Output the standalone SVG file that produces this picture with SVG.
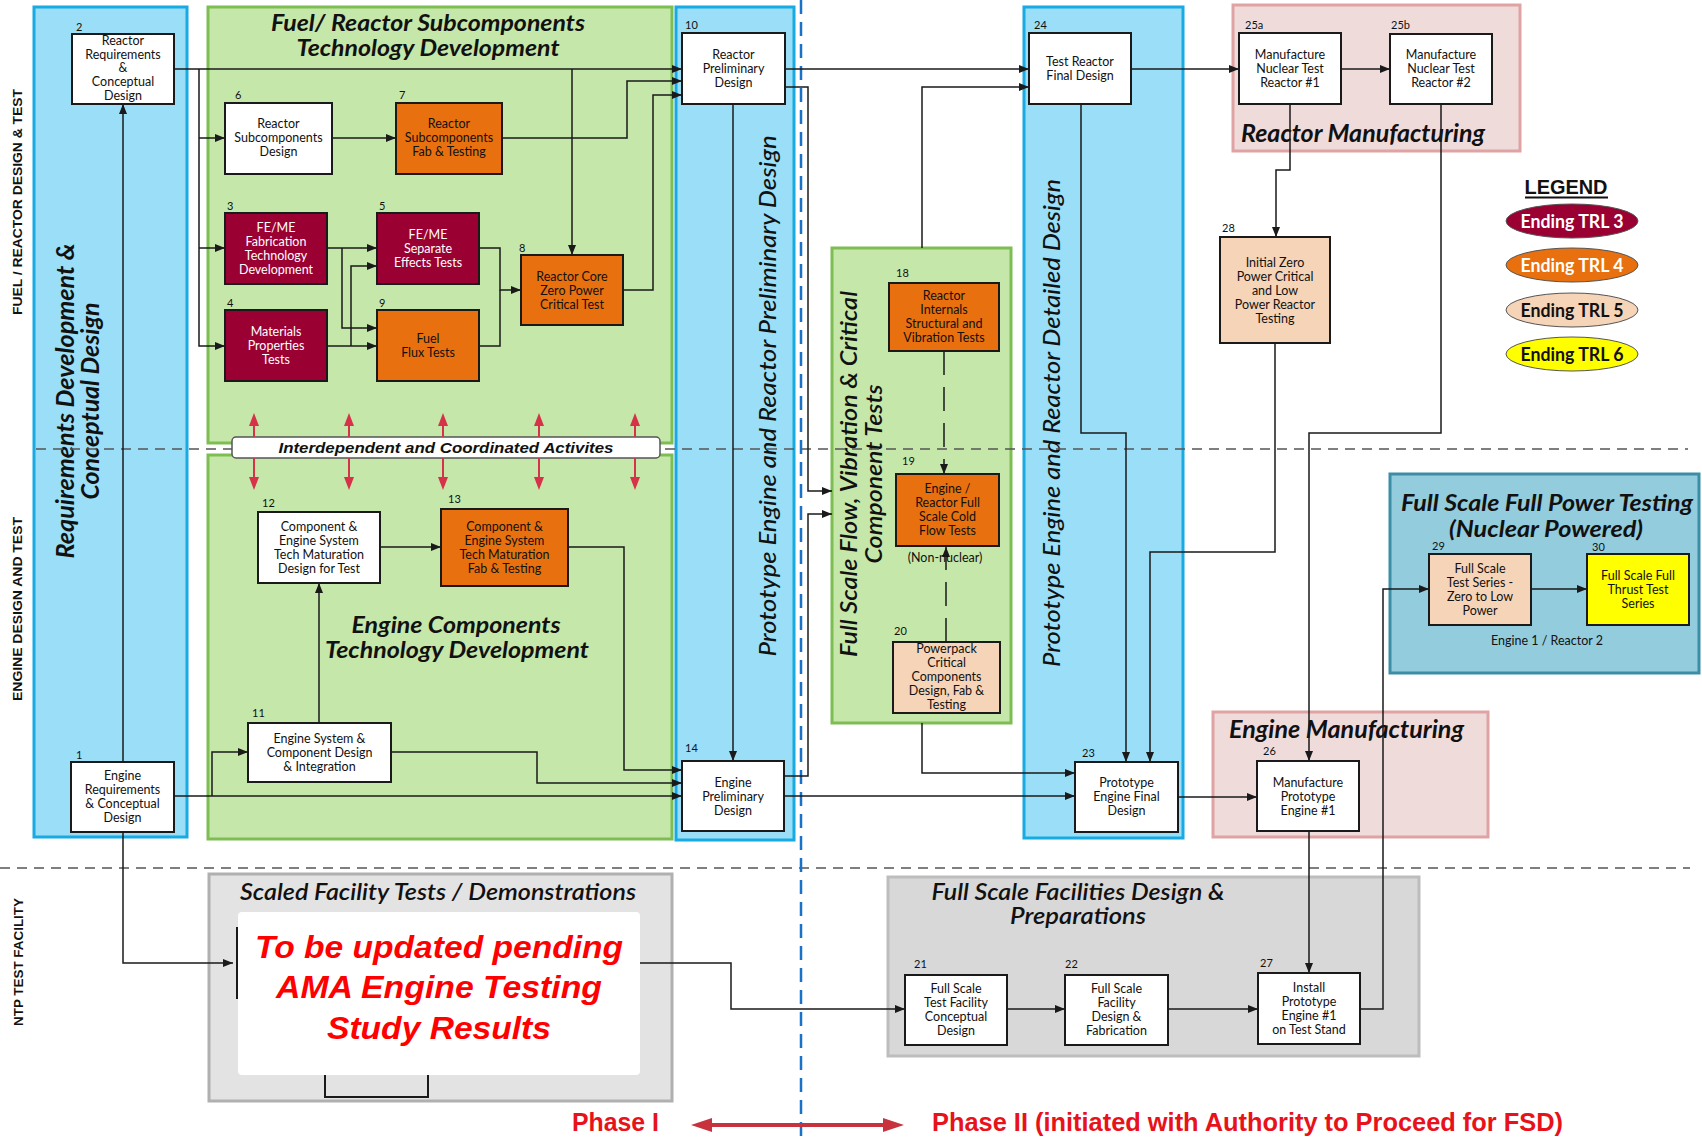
<svg xmlns="http://www.w3.org/2000/svg" width="1702" height="1143" viewBox="0 0 1702 1143">
<style>
.bg{fill:#ffffff}
.pb{fill:#9adff7;stroke:#17aae3;stroke-width:3}
.pg{fill:#c6e7aa;stroke:#7dbd52;stroke-width:3}
.pp{fill:#f0dbdb;stroke:#e0a3a3;stroke-width:3}
.pt{fill:#93ccdc;stroke:#3a8ea6;stroke-width:3}
.pgr{fill:#e3e3e3;stroke:#b0b0b0;stroke-width:3}
.pgr2{fill:#d8d8d8;stroke:#bdbdbd;stroke-width:3}
.n{stroke:#1a1a1a;stroke-width:2}
.w{fill:#ffffff}.m{fill:#9b0033}.o{fill:#e8700e}.p{fill:#f6d4b8}.y{fill:#ffff00}
.t{font-family:Lato,'Noto Sans',sans-serif;font-size:12.5px;text-anchor:middle;fill:#111}
.tw{fill:#ffffff}
.lb{font-family:Lato,'Noto Sans',sans-serif;font-size:11px;fill:#111}
.ti{font-family:Lato,'Noto Sans',sans-serif;font-weight:bold;font-style:italic;font-size:23px;fill:#111;text-anchor:middle}
.tv{font-family:Lato,'Noto Sans',sans-serif;font-weight:500;font-style:italic;font-size:23px;fill:#111;text-anchor:middle}
.side{font-family:'Liberation Sans',Arial,sans-serif;font-weight:bold;font-size:12px;fill:#111;text-anchor:middle}
.c{fill:none;stroke:#1a1a1a;stroke-width:1.5}
.cd{fill:none;stroke:#1a1a1a;stroke-width:1.5;stroke-dasharray:24,12}
.red{font-family:'Liberation Sans',Arial,sans-serif;font-weight:bold;font-style:italic;font-size:31px;fill:#ff0000;text-anchor:middle}
.ph{font-family:'Liberation Sans',Arial,sans-serif;font-weight:bold;font-size:25px;fill:#e8121b}
.lg{font-family:Lato,'Noto Sans',sans-serif;font-weight:bold;font-size:18px;text-anchor:middle}
.ia{stroke:#d6334a;stroke-width:2;fill:none}
.iah{fill:#d6334a}
</style>
<defs>
<marker id="ar" markerUnits="userSpaceOnUse" markerWidth="11" markerHeight="8" refX="10" refY="4" orient="auto">
<path d="M0,0 L10,4 L0,8 z" fill="#1a1a1a"/>
</marker>
</defs>
<rect class="bg" x="0" y="0" width="1702" height="1143"/>

<g id="panels">
<rect class="pb" x="34" y="7" width="153" height="830"/>
<rect class="pg" x="208" y="7" width="464" height="436"/>
<rect class="pg" x="208" y="455" width="464" height="384"/>
<rect class="pb" x="676" y="7" width="118" height="833"/>
<rect class="pg" x="832" y="248" width="179" height="475"/>
<rect class="pb" x="1024" y="7" width="159" height="831"/>
<rect class="pp" x="1233" y="5" width="287" height="146"/>
<rect class="pp" x="1213" y="712" width="275" height="125"/>
<rect class="pt" x="1390" y="474" width="309" height="199"/>
<rect class="pgr" x="209" y="874" width="463" height="227"/>
<rect class="pgr2" x="888" y="877" width="531" height="179"/>
<rect x="238" y="912" width="402" height="163" rx="4" fill="#ffffff"/>
</g>

<g id="panel-titles">
<text class="ti"><tspan x="428" y="31" textLength="314" lengthAdjust="spacingAndGlyphs">Fuel/ Reactor Subcomponents</tspan><tspan x="428" y="56" textLength="263" lengthAdjust="spacingAndGlyphs">Technology Development</tspan></text>
<text class="ti"><tspan x="456" y="633" textLength="209" lengthAdjust="spacingAndGlyphs">Engine Components</tspan><tspan x="457" y="658" textLength="264" lengthAdjust="spacingAndGlyphs">Technology Development</tspan></text>
<text class="ti" style="text-anchor:start;font-size:24px" x="1241" y="142" textLength="244" lengthAdjust="spacingAndGlyphs">Reactor Manufacturing</text>
<text class="ti" style="text-anchor:start;font-size:24px" x="1229" y="738" textLength="235" lengthAdjust="spacingAndGlyphs">Engine Manufacturing</text>
<text class="ti" style="font-size:22px"><tspan x="1547" y="511" textLength="292" lengthAdjust="spacingAndGlyphs">Full Scale Full Power Testing</tspan><tspan x="1546" y="537" textLength="194" lengthAdjust="spacingAndGlyphs">(Nuclear Powered)</tspan></text>
<text class="ti" style="font-size:22px;font-weight:600" x="438" y="900" textLength="396" lengthAdjust="spacingAndGlyphs">Scaled Facility Tests / Demonstrations</text>
<text class="ti" style="font-size:22px;font-weight:600"><tspan x="1078" y="900" textLength="293" lengthAdjust="spacingAndGlyphs">Full Scale Facilities Design &amp;</tspan><tspan x="1078" y="924" textLength="136" lengthAdjust="spacingAndGlyphs">Preparations</tspan></text>
<g transform="translate(0,401) rotate(-90)"><text class="ti" style="font-size:24px"><tspan x="0" y="74" textLength="315" lengthAdjust="spacingAndGlyphs">Requirements Development &amp;</tspan><tspan x="0" y="99" textLength="197" lengthAdjust="spacingAndGlyphs">Conceptual Design</tspan></text></g>
<g transform="translate(0,396) rotate(-90)"><text class="tv" x="0" y="776" textLength="521" lengthAdjust="spacingAndGlyphs">Prototype Engine and Reactor Preliminary Design</text></g>
<g transform="translate(0,423) rotate(-90)"><text class="tv" x="0" y="1060" textLength="488" lengthAdjust="spacingAndGlyphs">Prototype Engine and Reactor Detailed Design</text></g>
<g transform="translate(0,474) rotate(-90)"><text class="tv" style="font-weight:600"><tspan x="0" y="857" textLength="366" lengthAdjust="spacingAndGlyphs">Full Scale Flow, Vibration &amp; Critical</tspan><tspan x="0" y="882" textLength="179" lengthAdjust="spacingAndGlyphs">Component Tests</tspan></text></g>
<g transform="translate(0,202) rotate(-90)"><text class="side" x="0" y="22" textLength="226" lengthAdjust="spacingAndGlyphs">FUEL / REACTOR DESIGN &amp; TEST</text></g>
<g transform="translate(0,609) rotate(-90)"><text class="side" x="0" y="22" textLength="184" lengthAdjust="spacingAndGlyphs">ENGINE DESIGN AND TEST</text></g>
<g transform="translate(0,962) rotate(-90)"><text class="side" x="0" y="23" textLength="128" lengthAdjust="spacingAndGlyphs">NTP TEST FACILITY</text></g>
</g>

<g id="dividers">
<line x1="36" y1="449" x2="1688" y2="449" stroke="#555" stroke-width="1.5" stroke-dasharray="10,7"/>
<line x1="0" y1="868" x2="1690" y2="868" stroke="#555" stroke-width="1.5" stroke-dasharray="10,7"/>
<line x1="801" y1="0" x2="801" y2="1143" stroke="#1a72c8" stroke-width="2.5" stroke-dasharray="14,8"/>
</g>

<g id="interdependent">
<rect x="232" y="437" width="428" height="21" rx="4" fill="#ffffff" stroke="#555" stroke-width="1.5"/>
<text x="446" y="453" style="font-family:'Liberation Sans',Arial,sans-serif;font-weight:bold;font-style:italic;font-size:15px;fill:#111;text-anchor:middle" textLength="335" lengthAdjust="spacingAndGlyphs">Interdependent and Coordinated Activites</text>
<path class="ia" d="M254,437 V424 M349,437 V424 M443,437 V424 M539,437 V424 M635,437 V424 M254,458 V479 M349,458 V479 M443,458 V479 M539,458 V479 M635,458 V479"/>
<path class="iah" d="M254,413 l-5,13 h10 z M349,413 l-5,13 h10 z M443,413 l-5,13 h10 z M539,413 l-5,13 h10 z M635,413 l-5,13 h10 z M254,490 l-5,-13 h10 z M349,490 l-5,-13 h10 z M443,490 l-5,-13 h10 z M539,490 l-5,-13 h10 z M635,490 l-5,-13 h10 z"/>
</g>

<g id="connectors">
<path class="c" d="M174,69 H682" marker-end="url(#ar)"/>
<path class="c" d="M199,69 V346 H225" marker-end="url(#ar)"/>
<path class="c" d="M199,138 H225" marker-end="url(#ar)"/>
<path class="c" d="M199,248 H225" marker-end="url(#ar)"/>
<path class="c" d="M572,69 V255" marker-end="url(#ar)"/>
<path class="c" d="M332,138 H396" marker-end="url(#ar)"/>
<path class="c" d="M502,138 H627 V81 H682" marker-end="url(#ar)"/>
<path class="c" d="M623,290 H653 V95 H682" marker-end="url(#ar)"/>
<path class="c" d="M327,248 H377" marker-end="url(#ar)"/>
<path class="c" d="M342,248 V328 H377" marker-end="url(#ar)"/>
<path class="c" d="M327,346 H377" marker-end="url(#ar)"/>
<path class="c" d="M351,346 V266 H377" marker-end="url(#ar)"/>
<path class="c" d="M479,248 H500 V290 H521" marker-end="url(#ar)"/>
<path class="c" d="M479,346 H500 V290"/>
<path class="c" d="M123,762 V104" marker-end="url(#ar)"/>
<path class="c" d="M785,69 H1029" marker-end="url(#ar)"/>
<path class="c" d="M785,87 H808 V491 H832" marker-end="url(#ar)"/>
<path class="c" d="M733,104 V761" marker-end="url(#ar)"/>
<path class="c" d="M922,248 V87 H1029" marker-end="url(#ar)"/>
<path class="c" d="M1131,69 H1239" marker-end="url(#ar)"/>
<path class="c" d="M1341,69 H1390" marker-end="url(#ar)"/>
<path class="c" d="M1290,104 V170 H1276 V237" marker-end="url(#ar)"/>
<path class="c" d="M1441,104 V433 H1309 V761" marker-end="url(#ar)"/>
<path class="c" d="M1081,104 V433 H1126 V762" marker-end="url(#ar)"/>
<path class="c" d="M1275,343 V552 H1150 V762" marker-end="url(#ar)"/>
<path class="cd" d="M944,351 V474" marker-end="url(#ar)"/>
<path class="cd" d="M946,642 V547" marker-end="url(#ar)"/>
<path class="c" d="M174,796 H682" marker-end="url(#ar)"/>
<path class="c" d="M212,796 V752 H248" marker-end="url(#ar)"/>
<path class="c" d="M319,723 V583" marker-end="url(#ar)"/>
<path class="c" d="M380,547 H441" marker-end="url(#ar)"/>
<path class="c" d="M568,547 H624 V770 H682" marker-end="url(#ar)"/>
<path class="c" d="M391,752 H537 V783 H682" marker-end="url(#ar)"/>
<path class="c" d="M784,776 H808 V514 H832" marker-end="url(#ar)"/>
<path class="c" d="M784,796 H1075" marker-end="url(#ar)"/>
<path class="c" d="M922,723 V773 H1075" marker-end="url(#ar)"/>
<path class="c" d="M1178,797 H1257" marker-end="url(#ar)"/>
<path class="c" d="M1309,831 V973" marker-end="url(#ar)"/>
<path class="c" d="M1360,1009 H1383 V589 H1429" marker-end="url(#ar)"/>
<path class="c" d="M1531,589 H1587" marker-end="url(#ar)"/>
<path class="c" d="M123,832 V963 H233" marker-end="url(#ar)"/>
<path class="c" d="M640,963 H731 V1009 H905" marker-end="url(#ar)"/>
<path class="c" d="M1007,1009 H1065" marker-end="url(#ar)"/>
<path class="c" d="M1168,1009 H1258" marker-end="url(#ar)"/>
<path class="c" style="stroke-width:2" d="M237,927 V999 M325,1075 V1097 H428 V1075"/>
</g>

<g id="n2"><rect class="n w" x="72" y="34" width="102" height="70"/><text class="lb" x="76" y="31">2</text><text class="t"><tspan x="123" y="45">Reactor</tspan><tspan x="123" y="58.5">Requirements</tspan><tspan x="123" y="72">&amp;</tspan><tspan x="123" y="86">Conceptual</tspan><tspan x="123" y="100">Design</tspan></text></g>
<g id="n6"><rect class="n w" x="225" y="103" width="107" height="71"/><text class="lb" x="235" y="99">6</text><text class="t"><tspan x="278.5" y="127.5">Reactor</tspan><tspan x="278.5" y="142">Subcomponents</tspan><tspan x="278.5" y="156">Design</tspan></text></g>
<g id="n7"><rect class="n o" x="396" y="103" width="106" height="71"/><text class="lb" x="399" y="99">7</text><text class="t"><tspan x="449" y="127.5">Reactor</tspan><tspan x="449" y="142">Subcomponents</tspan><tspan x="449" y="156">Fab &amp; Testing</tspan></text></g>
<g id="n3"><rect class="n m" x="225" y="213" width="102" height="71"/><text class="lb" x="227" y="210">3</text><text class="t tw"><tspan x="276" y="231.5">FE/ME</tspan><tspan x="276" y="245.5">Fabrication</tspan><tspan x="276" y="259.5">Technology</tspan><tspan x="276" y="273.5">Development</tspan></text></g>
<g id="n5"><rect class="n m" x="377" y="213" width="102" height="71"/><text class="lb" x="379" y="210">5</text><text class="t tw"><tspan x="428" y="238.5">FE/ME</tspan><tspan x="428" y="252.5">Separate</tspan><tspan x="428" y="266.5">Effects Tests</tspan></text></g>
<g id="n4"><rect class="n m" x="225" y="310" width="102" height="71"/><text class="lb" x="227" y="307">4</text><text class="t tw"><tspan x="276" y="335.5">Materials</tspan><tspan x="276" y="349.5">Properties</tspan><tspan x="276" y="363.5">Tests</tspan></text></g>
<g id="n9"><rect class="n o" x="377" y="310" width="102" height="71"/><text class="lb" x="379" y="307">9</text><text class="t"><tspan x="428" y="342.5">Fuel</tspan><tspan x="428" y="356.5">Flux Tests</tspan></text></g>
<g id="n8"><rect class="n o" x="521" y="255" width="102" height="70"/><text class="lb" x="519" y="252">8</text><text class="t"><tspan x="572" y="280.5">Reactor Core</tspan><tspan x="572" y="294.5">Zero Power</tspan><tspan x="572" y="308.5">Critical Test</tspan></text></g>
<g id="n10"><rect class="n w" x="682" y="33" width="103" height="71"/><text class="lb" x="685" y="29">10</text><text class="t"><tspan x="733.5" y="58.5">Reactor</tspan><tspan x="733.5" y="72.5">Preliminary</tspan><tspan x="733.5" y="86.5">Design</tspan></text></g>
<g id="n24"><rect class="n w" x="1029" y="33" width="102" height="71"/><text class="lb" x="1034" y="29">24</text><text class="t"><tspan x="1080" y="65.5">Test Reactor</tspan><tspan x="1080" y="79.5">Final Design</tspan></text></g>
<g id="n25a"><rect class="n w" x="1239" y="33" width="102" height="71"/><text class="lb" x="1245" y="29">25a</text><text class="t"><tspan x="1290" y="58.5">Manufacture</tspan><tspan x="1290" y="72.5">Nuclear Test</tspan><tspan x="1290" y="86.5">Reactor #1</tspan></text></g>
<g id="n25b"><rect class="n w" x="1390" y="34" width="102" height="70"/><text class="lb" x="1391" y="29">25b</text><text class="t"><tspan x="1441" y="58.5">Manufacture</tspan><tspan x="1441" y="72.5">Nuclear Test</tspan><tspan x="1441" y="86.5">Reactor #2</tspan></text></g>
<g id="n28"><rect class="n p" x="1220" y="237" width="110" height="106"/><text class="lb" x="1222" y="232">28</text><text class="t"><tspan x="1275" y="266.5">Initial Zero</tspan><tspan x="1275" y="280.5">Power Critical</tspan><tspan x="1275" y="294.5">and Low</tspan><tspan x="1275" y="308.5">Power Reactor</tspan><tspan x="1275" y="322.5">Testing</tspan></text></g>
<g id="n18"><rect class="n o" x="889" y="283" width="110" height="68"/><text class="lb" x="896" y="277">18</text><text class="t"><tspan x="944" y="299.5">Reactor</tspan><tspan x="944" y="313.5">Internals</tspan><tspan x="944" y="327.5">Structural and</tspan><tspan x="944" y="341.5">Vibration Tests</tspan></text></g>
<g id="n19"><rect class="n o" x="896" y="474" width="103" height="72"/><text class="lb" x="902" y="465">19</text><text class="t"><tspan x="947.5" y="492.5">Engine /</tspan><tspan x="947.5" y="506.5">Reactor Full</tspan><tspan x="947.5" y="520.5">Scale Cold</tspan><tspan x="947.5" y="534.5">Flow Tests</tspan></text><text class="t" x="945" y="562">(Non-nuclear)</text></g>
<g id="n20"><rect class="n p" x="893" y="642" width="107" height="71"/><text class="lb" x="894" y="635">20</text><text class="t"><tspan x="946.5" y="652.5">Powerpack</tspan><tspan x="946.5" y="667">Critical</tspan><tspan x="946.5" y="681">Components</tspan><tspan x="946.5" y="695">Design, Fab &amp;</tspan><tspan x="946.5" y="709">Testing</tspan></text></g>
<g id="n12"><rect class="n w" x="258" y="512" width="122" height="71"/><text class="lb" x="262" y="507">12</text><text class="t"><tspan x="319" y="530.5">Component &amp;</tspan><tspan x="319" y="544.5">Engine System</tspan><tspan x="319" y="558.5">Tech Maturation</tspan><tspan x="319" y="572.5">Design for Test</tspan></text></g>
<g id="n13"><rect class="n o" x="441" y="509" width="127" height="77"/><text class="lb" x="448" y="503">13</text><text class="t"><tspan x="504.5" y="530.5">Component &amp;</tspan><tspan x="504.5" y="544.5">Engine System</tspan><tspan x="504.5" y="558.5">Tech Maturation</tspan><tspan x="504.5" y="572.5">Fab &amp; Testing</tspan></text></g>
<g id="n11"><rect class="n w" x="248" y="723" width="143" height="59"/><text class="lb" x="252" y="717">11</text><text class="t"><tspan x="319.5" y="742.5">Engine System &amp;</tspan><tspan x="319.5" y="756.5">Component Design</tspan><tspan x="319.5" y="770.5">&amp; Integration</tspan></text></g>
<g id="n1"><rect class="n w" x="71" y="762" width="103" height="70"/><text class="lb" x="76" y="759">1</text><text class="t"><tspan x="122.5" y="779.5">Engine</tspan><tspan x="122.5" y="793.5">Requirements</tspan><tspan x="122.5" y="807.5">&amp; Conceptual</tspan><tspan x="122.5" y="821.5">Design</tspan></text></g>
<g id="n14"><rect class="n w" x="682" y="761" width="102" height="70"/><text class="lb" x="685" y="752">14</text><text class="t"><tspan x="733" y="786.5">Engine</tspan><tspan x="733" y="800.5">Preliminary</tspan><tspan x="733" y="814.5">Design</tspan></text></g>
<g id="n23"><rect class="n w" x="1075" y="762" width="103" height="70"/><text class="lb" x="1082" y="757">23</text><text class="t"><tspan x="1126.5" y="786.5">Prototype</tspan><tspan x="1126.5" y="800.5">Engine Final</tspan><tspan x="1126.5" y="814.5">Design</tspan></text></g>
<g id="n26"><rect class="n w" x="1257" y="761" width="102" height="70"/><text class="lb" x="1263" y="755">26</text><text class="t"><tspan x="1308" y="786.5">Manufacture</tspan><tspan x="1308" y="800.5">Prototype</tspan><tspan x="1308" y="814.5">Engine #1</tspan></text></g>
<g id="n29"><rect class="n p" x="1429" y="554" width="102" height="71"/><text class="lb" x="1432" y="550">29</text><text class="t"><tspan x="1480" y="572.5">Full Scale</tspan><tspan x="1480" y="586.5">Test Series -</tspan><tspan x="1480" y="600.5">Zero to Low</tspan><tspan x="1480" y="614.5">Power</tspan></text></g>
<g id="n30"><rect class="n y" x="1587" y="554" width="102" height="71"/><text class="lb" x="1592" y="551">30</text><text class="t"><tspan x="1638" y="579.5">Full Scale Full</tspan><tspan x="1638" y="593.5">Thrust Test</tspan><tspan x="1638" y="607.5">Series</tspan></text><text class="t" x="1547" y="645">Engine 1 / Reactor 2</text></g>
<g id="n21"><rect class="n w" x="905" y="975" width="102" height="70"/><text class="lb" x="914" y="968">21</text><text class="t"><tspan x="956" y="992.5">Full Scale</tspan><tspan x="956" y="1006.5">Test Facility</tspan><tspan x="956" y="1020.5">Conceptual</tspan><tspan x="956" y="1034.5">Design</tspan></text></g>
<g id="n22"><rect class="n w" x="1065" y="975" width="103" height="70"/><text class="lb" x="1065" y="968">22</text><text class="t"><tspan x="1116.5" y="992.5">Full Scale</tspan><tspan x="1116.5" y="1006.5">Facility</tspan><tspan x="1116.5" y="1020.5">Design &amp;</tspan><tspan x="1116.5" y="1034.5">Fabrication</tspan></text></g>
<g id="n27"><rect class="n w" x="1258" y="973" width="102" height="71"/><text class="lb" x="1260" y="967">27</text><text class="t"><tspan x="1309" y="991.5">Install</tspan><tspan x="1309" y="1005.5">Prototype</tspan><tspan x="1309" y="1019.5">Engine #1</tspan><tspan x="1309" y="1033.5">on Test Stand</tspan></text></g>

<g id="pending-note">
<text class="red"><tspan x="439" y="958" textLength="368" lengthAdjust="spacingAndGlyphs">To be updated pending</tspan><tspan x="439" y="998" textLength="326" lengthAdjust="spacingAndGlyphs">AMA Engine Testing</tspan><tspan x="439" y="1039" textLength="224" lengthAdjust="spacingAndGlyphs">Study Results</tspan></text>
</g>

<g id="legend">
<text x="1566" y="194" style="font-family:'Liberation Sans',Arial,sans-serif;font-weight:bold;font-size:20px;fill:#111;text-anchor:middle" textLength="83" lengthAdjust="spacingAndGlyphs">LEGEND</text>
<line x1="1525" y1="197.5" x2="1608" y2="197.5" stroke="#111" stroke-width="2"/>
<ellipse cx="1572" cy="221" rx="66" ry="17" fill="#9b0033" stroke="#555" stroke-width="1"/>
<text class="lg" x="1572" y="227.5" fill="#ffffff" textLength="103" lengthAdjust="spacingAndGlyphs">Ending TRL 3</text>
<ellipse cx="1572" cy="265" rx="66" ry="17" fill="#e8700e" stroke="#555" stroke-width="1"/>
<text class="lg" x="1572" y="271.5" fill="#ffffff" textLength="103" lengthAdjust="spacingAndGlyphs">Ending TRL 4</text>
<ellipse cx="1572" cy="310" rx="66" ry="17" fill="#f6d4b8" stroke="#555" stroke-width="1"/>
<text class="lg" x="1572" y="316.5" fill="#111" textLength="103" lengthAdjust="spacingAndGlyphs">Ending TRL 5</text>
<ellipse cx="1572" cy="354" rx="66" ry="17" fill="#ffff00" stroke="#555" stroke-width="1"/>
<text class="lg" x="1572" y="360.5" fill="#111" textLength="103" lengthAdjust="spacingAndGlyphs">Ending TRL 6</text>
</g>

<g id="phases">
<line x1="705" y1="1125" x2="890" y2="1125" stroke="#c8323c" stroke-width="4"/>
<path d="M691,1125 L712,1118 L712,1132 z M904,1125 L883,1118 L883,1132 z" fill="#c8323c"/>
<text class="ph" x="572" y="1131" textLength="87" lengthAdjust="spacingAndGlyphs">Phase I</text>
<text class="ph" x="932" y="1131" textLength="631" lengthAdjust="spacingAndGlyphs">Phase II (initiated with Authority to Proceed for FSD)</text>
</g>
</svg>
